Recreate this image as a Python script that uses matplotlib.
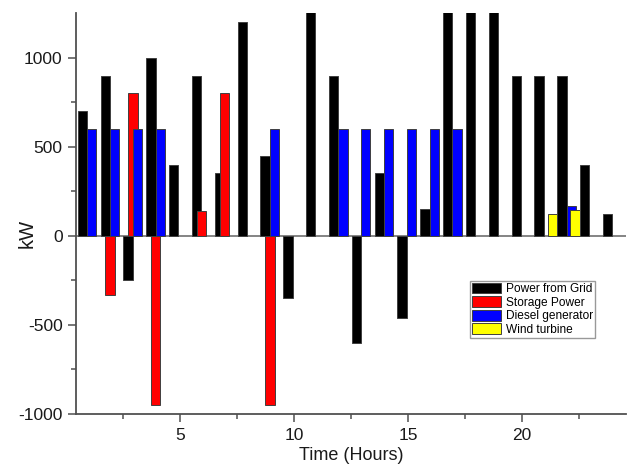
import numpy as np
import matplotlib
matplotlib.use('Agg')
import matplotlib.pyplot as plt

plt.rcParams['font.family'] = ['Liberation Sans', 'DejaVu Sans']
plt.rcParams['axes.unicode_minus'] = False

hours = np.arange(1, 25)

# hourly power flows, kW (grid bars at 11 and 17-19 run past the top of the axis)
grid = [700, 900, -250, 1000, 400, 900, 350, 1200, 450, -350, 1300, 900,
        -600, 350, -460, 150, 1300, 1300, 1300, 900, 900, 900, 400, 120]
storage = [0, -330, 800, -950, 0, 140, 800, 0, -950, 0, 0, 0,
           0, 0, 0, 0, 0, 0, 0, 0, 0, 0, 0, 0]
diesel = [600, 600, 600, 600, 0, 0, 0, 0, 600, 0, 0, 600,
          600, 600, 600, 600, 600, 0, 0, 0, 0, 165, 0, 0]
wind = [0, 0, 0, 0, 0, 0, 0, 0, 0, 0, 0, 0,
        0, 0, 0, 0, 0, 0, 0, 0, 120, 145, 0, 0]

series = [(grid, 'black', 'Power from Grid', -0.26),
          (storage, '#ff0000', 'Storage Power', -0.05),
          (diesel, '#0000ff', 'Diesel generator', 0.15),
          (wind, '#ffff00', 'Wind turbine', 0.32)]

fig = plt.figure(figsize=(6.32, 4.66), dpi=100)
ax = fig.add_axes([0.120, 0.112, 0.8705, 0.8597])

ax.axhline(0, color='#707070', lw=1.2, zorder=1)

for vals, col, lab, off in series:
    v = np.array(vals, dtype=float)
    v[v == 0] = np.nan
    ax.bar(hours + off, v, width=0.41, color=col, edgecolor='#404040',
           linewidth=0.7, label=lab, zorder=2)

ax.set_xlim(0.45, 24.55)
ax.set_ylim(-1000, 1250)
ax.set_xticks([5, 10, 15, 20])
ax.set_xticks([2.5, 7.5, 12.5, 17.5, 22.5], minor=True)
ax.set_yticks([-1000, -500, 0, 500, 1000])
ax.set_yticks([-750, -250, 250, 750], minor=True)

for s in ['top', 'right']:
    ax.spines[s].set_visible(False)
for s in ['left', 'bottom']:
    ax.spines[s].set_color('#505050')
    ax.spines[s].set_linewidth(1.3)

ax.tick_params(which='major', direction='out', length=5.5, width=1.1,
               color='#505050', labelsize=12.5, labelcolor='#1a1a1a', pad=4)
ax.tick_params(axis='x', which='major', pad=5)
ax.tick_params(which='minor', direction='out', length=3.5, width=1.1,
               color='#505050')

ax.set_xlabel('Time (Hours)', fontsize=13, labelpad=2.5, color='#1a1a1a')
ax.set_ylabel('kW', fontsize=14.5, color='#1a1a1a')
ax.yaxis.set_label_coords(-0.072, 0.451)

leg = ax.legend(loc='upper left', bbox_to_anchor=(0.716, 0.332), fontsize=8.6,
                frameon=True, fancybox=False, edgecolor='#808080',
                handlelength=2.5, handleheight=1.0, labelspacing=0.1,
                handletextpad=0.35, borderpad=0.15, borderaxespad=0)
leg.get_frame().set_linewidth(1.0)

plt.savefig('out.png', dpi=100)
